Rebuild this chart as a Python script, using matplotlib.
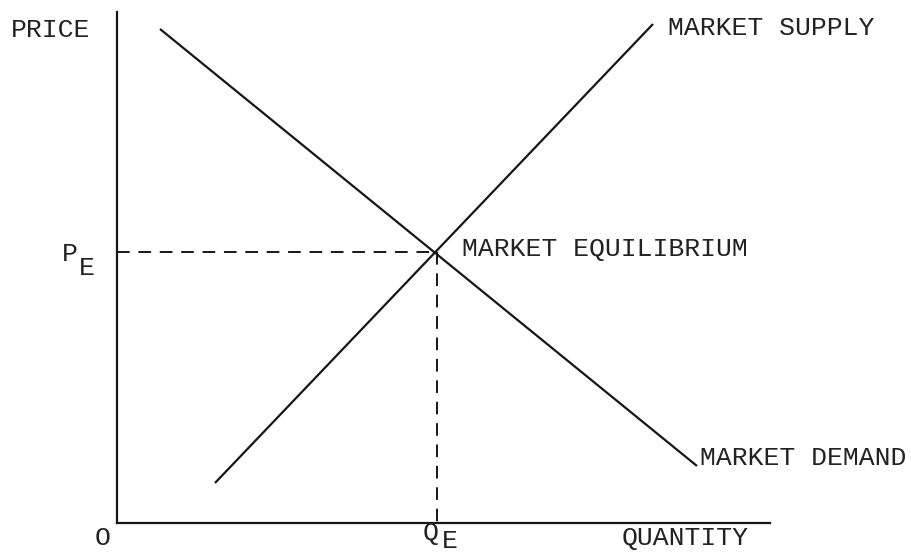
import matplotlib.pyplot as plt

# supply / demand diagram, arbitrary units (origin at 0,0)
demand_q = [43, 580]
demand_p = [494, 57]
supply_q = [98, 536]
supply_p = [40, 499]
eq_q = 320
eq_p = 271
q_max = 653
p_max = 511

ink = '#161616'
font = 'Liberation Mono'
fs = 19

fig = plt.figure(figsize=(9.12, 5.55), dpi=100)
ax = fig.add_axes([0, 0, 1, 1])
ax.set_xlim(-117, 795)
ax.set_ylim(-32, 523)

# axes drawn as spines through the origin
for s in ['top', 'right']:
    ax.spines[s].set_visible(False)
ax.spines['left'].set_position(('data', 0))
ax.spines['bottom'].set_position(('data', 0))
ax.spines['left'].set_bounds(0, p_max)
ax.spines['bottom'].set_bounds(0, q_max)
for s in ['left', 'bottom']:
    ax.spines[s].set_linewidth(1.6)
    ax.spines[s].set_color(ink)
ax.set_xticks([])
ax.set_yticks([])

ax.plot(demand_q, demand_p, color=ink, lw=1.6, solid_capstyle='butt')
ax.plot(supply_q, supply_p, color=ink, lw=1.6, solid_capstyle='butt')

# dashed guides to the equilibrium
ax.plot([0, eq_q], [eq_p, eq_p], color=ink, lw=1.4, dashes=(6.5, 4.5))
ax.plot([eq_q, eq_q], [eq_p, 0], color=ink, lw=1.4, dashes=(6.5, 4.5))

kw = dict(family=font, fontsize=fs, color='#222222', va='baseline')
ax.text(-27, 486, 'PRICE', ha='right', **kw)
ax.text(-55, eq_p - 9, 'P', ha='left', **kw)
ax.text(-38, eq_p - 23, 'E', ha='left', **kw)
ax.text(-14, -22, 'O', ha='center', **kw)
ax.text(eq_q - 14, -17, 'Q', ha='left', **kw)
ax.text(eq_q + 5, -25, 'E', ha='left', **kw)
ax.text(505, -22, 'QUANTITY', ha='left', **kw)
ax.text(551, 488, 'MARKET SUPPLY', ha='left', **kw)
ax.text(eq_q + 25, eq_p - 4, 'MARKET EQUILIBRIUM', ha='left', **kw)
ax.text(583, 58, 'MARKET DEMAND', ha='left', **kw)

plt.savefig('out.png', dpi=100)
